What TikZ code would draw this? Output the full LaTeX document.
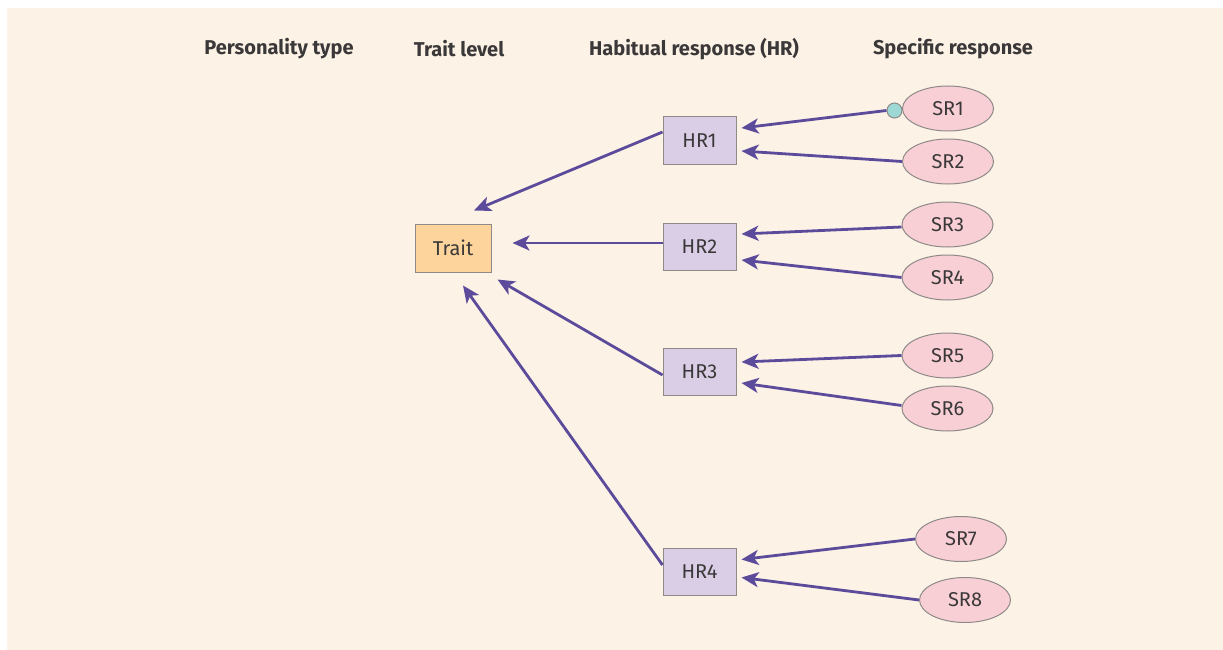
\documentclass[tikz,border=0pt]{standalone}
\usepackage{fontspec}
\setmainfont{Fira Sans}
\usetikzlibrary{calc,arrows.meta,shapes.geometric}
\definecolor{bgcream}{HTML}{FCF2E6}
\definecolor{traitfill}{HTML}{FDD59C}
\definecolor{hrfill}{HTML}{D9CEE6}
\definecolor{srfill}{HTML}{F9CFD6}
\definecolor{dotfill}{HTML}{9DD8D5}
\definecolor{edgegray}{HTML}{8E8A88}
\definecolor{arrowpurple}{HTML}{5C4B9B}
\definecolor{inkgray}{HTML}{3A3838}
\tikzset{
  heading/.style={font=\fontsize{20}{24}\selectfont\bfseries, text=inkgray, anchor=center},
  nodetext/.style={font=\fontsize{20}{24}\selectfont, text=inkgray},
  traitbox/.style={nodetext, draw=edgegray, line width=1pt, fill=traitfill, minimum width=76pt, minimum height=48pt},
  hrbox/.style={nodetext, draw=edgegray, line width=1pt, fill=hrfill, minimum width=73pt, minimum height=47pt},
  srell/.style={nodetext, ellipse, draw=edgegray, line width=1pt, fill=srfill, minimum width=91pt, minimum height=45pt, inner sep=0pt},
  dot/.style={circle, draw=edgegray, line width=1pt, fill=dotfill, minimum size=15pt, inner sep=0pt},
  link/.style={draw=arrowpurple, line width=2.8pt, -{Stealth[length=17pt, width=15pt, inset=4.5pt]}},
}
\begin{document}
\begin{tikzpicture}[x=1pt, y=-1pt]
  % page and panel
  \useasboundingbox (0,0) rectangle (1223,650);
  \fill[white] (0,0) rectangle (1223,650);
  \fill[bgcream] (7,8) rectangle (1223,650);

  % column headings
  \node[heading] (h1) at (279,49) {Personality type};
  \node[heading] (h2) at (459,49) {Trait level};
  \node[heading] (h3) at (694,49) {Habitual response (HR)};
  \node[heading] (h4) at (953,49) {Specific response};

  % trait level
  \node[traitbox] (trait) at (453,248) {Trait};

  % habitual responses
  \node[hrbox] (hr1) at (699.5,140.5) {HR1};
  \node[hrbox] (hr2) at (699.5,246.5) {HR2};
  \node[hrbox] (hr3) at (699.5,371.5) {HR3};
  \node[hrbox] (hr4) at (699.5,572) {HR4};

  % specific responses
  \node[srell] (sr1) at (948,108.5) {SR1};
  \node[srell] (sr2) at (948,161.5) {SR2};
  \node[srell] (sr3) at (947.5,224.5) {SR3};
  \node[srell] (sr4) at (947.5,277.5) {SR4};
  \node[srell] (sr5) at (947.5,355.5) {SR5};
  \node[srell] (sr6) at (947.5,408.5) {SR6};
  \node[srell] (sr7) at (961,539) {SR7};
  \node[srell] (sr8) at (965,600) {SR8};
  \node[dot] (d1) at (894.5,110.5) {};

  % specific -> habitual
  \draw[link] (d1.west) -- ($(hr1.east)+(5,-12.5)$);
  \draw[link] (sr2.west) -- ($(hr1.east)+(5,10.5)$);
  \draw[link] ($(sr3.west)+(0,2.5)$) -- ($(hr2.east)+(5,-12.5)$);
  \draw[link] (sr4.west) -- ($(hr2.east)+(5,13.5)$);
  \draw[link] (sr5.west) -- ($(hr3.east)+(5,-9.5)$);
  \draw[link] ($(sr6.west)+(0,-3)$) -- ($(hr3.east)+(5,11.5)$);
  \draw[link] (sr7.west) -- ($(hr4.east)+(5,-12.5)$);
  \draw[link] (sr8.west) -- ($(hr4.east)+(5,5.5)$);

  % habitual -> trait
  \draw[link] ($(hr1.west)+(0,-8.5)$) -- ($(trait.north)+(21,-13)$);
  \draw[link] ($(hr2.west)+(0,-3.5)$) -- ($(trait.east)+(21,-5)$);
  \draw[link] ($(hr3.west)+(0,3.5)$) -- ($(trait.south east)+(6,7)$);
  \draw[link] ($(hr4.west)+(0,-7)$) -- ($(trait.south)+(10,13)$);
\end{tikzpicture}
\end{document}
